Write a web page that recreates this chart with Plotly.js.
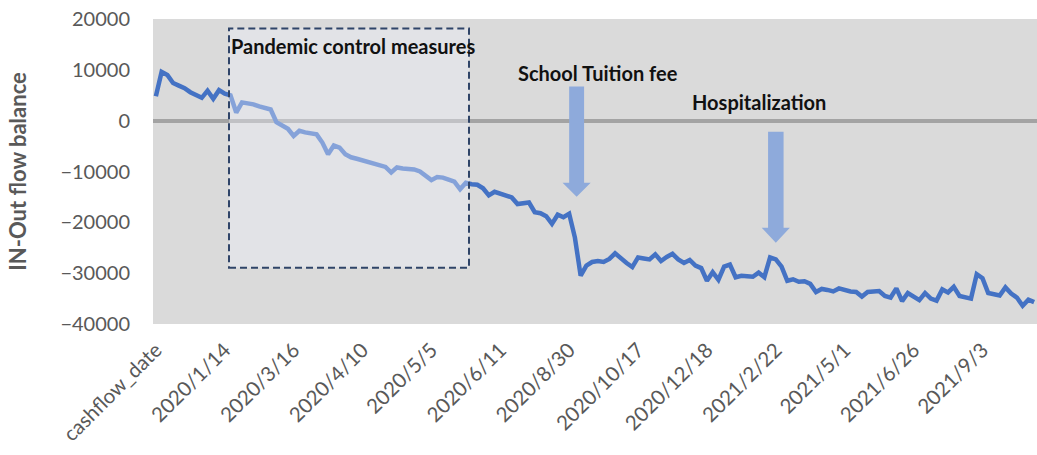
<!DOCTYPE html>
<html>
<head>
<meta charset="utf-8">
<script src="https://cdn.plot.ly/plotly-3.0.1.min.js"></script>
<style>
  html, body { margin: 0; padding: 0; background: #ffffff; }
  #chart { width: 1037px; height: 455px; }
</style>
</head>
<body>
<div id="chart"></div>
<script>
// Category labels shown along the x axis (every 12th transaction date)
const tickLabels = ['cashflow_date', '2020/1/14', '2020/3/16', '2020/4/10', '2020/5/5', '2020/6/11',
  '2020/8/30', '2020/10/17', '2020/12/18', '2021/2/22', '2021/5/1', '2021/6/26', '2021/9/3'];
const tickStep = 12;

// Running IN-Out balance, one value per transaction
const balance = [
  4800, 9600, 9000, 7400, 6900, 6400, 5600, 5000, 4500, 5900,
  4300, 6000, 5300, 5000, 1600, 3600, 3500, 3200, 2800, 2500,
  2200, -300, -1000, -1600, -3000, -2000, -2300, -2500, -2700, -4300,
  -6600, -4900, -5300, -6600, -7200, -7500, -7800, -8100, -8400, -8700,
  -9100, -10200, -9200, -9400, -9500, -9600, -10000, -10800, -11700, -11100,
  -11200, -11600, -12000, -13500, -12200, -12500, -12600, -13300, -14700, -14000,
  -14400, -14800, -15100, -16400, -16300, -16100, -18000, -18200, -18800, -20300,
  -18500, -19000, -18300, -23000, -30500, -28500, -27800, -27600, -27800, -27200,
  -26100, -27200, -28000, -28800, -26900, -27100, -27300, -26300, -27600, -26800,
  -26200, -27300, -28000, -27400, -28500, -29000, -31500, -29800, -31300, -28700,
  -28300, -30800, -30500, -30600, -30700, -29900, -30800, -26900, -27300, -28700,
  -31500, -31200, -31700, -31600, -32100, -33700, -33100, -33300, -33600, -33000,
  -33400, -33600, -33700, -34600, -33700, -33600, -33500, -34500, -34800, -33000,
  -35500, -33900, -34500, -35300, -33900, -35000, -35400, -33200, -33800, -32700,
  -34500, -34700, -35000, -30200, -31000, -33900, -34200, -34400, -32800, -34000,
  -34800, -36400, -35200, -35700
];

const yTicks = [-40000, -30000, -20000, -10000, 0, 10000, 20000];

const xIndex = balance.map((_, i) => i);
const tickVals = tickLabels.map((_, i) => i * tickStep);

const labelFont = 'Lato, "Open Sans", sans-serif';
const arrowColor = '#8eaadb';

// Block arrow pointing down, built in axis units
function downArrow(xc, shaftHalf, headHalf, yTop, yHeadBase, yTip) {
  return 'M ' + (xc - shaftHalf) + ',' + yTop +
    ' L ' + (xc + shaftHalf) + ',' + yTop +
    ' L ' + (xc + shaftHalf) + ',' + yHeadBase +
    ' L ' + (xc + headHalf) + ',' + yHeadBase +
    ' L ' + xc + ',' + yTip +
    ' L ' + (xc - headHalf) + ',' + yHeadBase +
    ' L ' + (xc - shaftHalf) + ',' + yHeadBase + ' Z';
}

const trace = {
  type: 'scatter',
  mode: 'lines',
  x: xIndex,
  y: balance,
  line: { color: '#4472c4', width: 4.5 },
  hoverinfo: 'y'
};

const layout = {
  width: 1037,
  height: 455,
  margin: { l: 153, r: 0, t: 19, b: 131 },
  paper_bgcolor: '#ffffff',
  plot_bgcolor: '#dadada',
  showlegend: false,
  xaxis: {
    type: 'linear',
    range: [-0.5, balance.length - 0.5],
    tickmode: 'array',
    tickvals: tickVals,
    ticktext: tickLabels,
    tickangle: -45,
    ticks: '',
    ticklabelstandoff: 9,
    showgrid: false,
    zeroline: false,
    showline: false,
    automargin: false,
    tickfont: { family: labelFont, size: 20.5, color: '#595959' }
  },
  yaxis: {
    range: [-40000, 20000],
    tickmode: 'array',
    tickvals: yTicks,
    tickformat: 'd',
    ticks: '',
    ticklabelstandoff: 22,
    showgrid: false,
    zeroline: true,
    zerolinecolor: '#a3a3a3',
    zerolinewidth: 4,
    showline: false,
    automargin: false,
    tickfont: { family: labelFont, size: 20, color: '#595959' },
    title: {
      text: 'IN-Out flow balance',
      standoff: 27,
      font: { family: labelFont, size: 22, color: '#595959', weight: 'bold' }
    }
  },
  shapes: [
    {
      type: 'rect', xref: 'x', yref: 'y',
      x0: 12.74, x1: 54.55, y0: -28950, y1: 18130,
      fillcolor: 'rgba(240,243,252,0.38)',
      line: { color: '#2f4468', width: 2, dash: '7px,4px' },
      layer: 'above'
    },
    {
      type: 'path', xref: 'x', yref: 'y',
      path: downArrow(73.3, 1.3, 2.45, 6700, -12200, -14950),
      fillcolor: arrowColor, line: { width: 0 }, layer: 'above'
    },
    {
      type: 'path', xref: 'x', yref: 'y',
      path: downArrow(108.0, 1.35, 2.45, -2160, -21070, -24030),
      fillcolor: arrowColor, line: { width: 0 }, layer: 'above'
    }
  ],
  annotations: [
    {
      xref: 'x', yref: 'y', x: 12.74, y: 14600, xanchor: 'left', yanchor: 'middle',
      text: '<b>Pandemic control measures</b>', showarrow: false,
      font: { family: labelFont, size: 20, color: '#111111' }
    },
    {
      xref: 'x', yref: 'y', x: 77.0, y: 9450, xanchor: 'center', yanchor: 'middle',
      text: '<b>School Tuition fee</b>', showarrow: false,
      font: { family: labelFont, size: 20, color: '#111111' }
    },
    {
      xref: 'x', yref: 'y', x: 105.1, y: 3750, xanchor: 'center', yanchor: 'middle',
      text: '<b>Hospitalization</b>', showarrow: false,
      font: { family: labelFont, size: 20, color: '#111111' }
    }
  ]
};

Plotly.newPlot('chart', [trace], layout, { displayModeBar: false, staticPlot: true });
</script>
</body>
</html>
